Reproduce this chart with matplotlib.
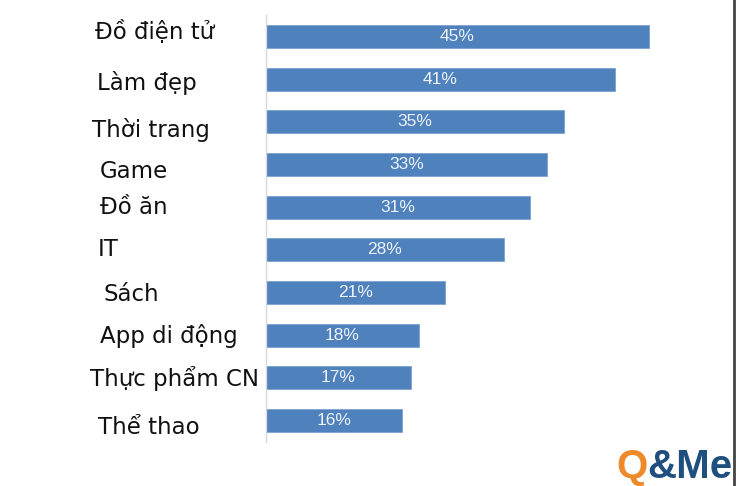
import matplotlib
matplotlib.use("Agg")
import matplotlib.pyplot as plt
from matplotlib.lines import Line2D

# data
categories = ["Đồ điện tử", "Làm đẹp", "Thời trang", "Game", "Đồ ăn",
              "IT", "Sách", "App di động", "Thực phẩm CN", "Thể thao"]
values = [45, 41, 35, 33, 31, 28, 21, 18, 17, 16]

# small hand offsets for the category labels (pixels), as in the source picture
label_dx = [5, 7, 2, 10, 10, 8, 13, 10, 0, 8]
label_dy = [-4, 4, 8, 7, 0, 0, 2, 1, 1, 7]

W, H = 736, 486
fig = plt.figure(figsize=(W / 100, H / 100), dpi=100)
ax = fig.add_axes([266 / W, 1 - 442 / H, 425 / W, 427 / H])

y = list(range(len(categories)))
bars = ax.barh(y, values, height=0.54, color="#4F81BD", edgecolor="#7da2d1", linewidth=0.6)
ax.set_xlim(0, 50)
ax.set_ylim(len(categories) - 0.5, -0.5)

for b, v in zip(bars, values):
    ax.text(v / 2, b.get_y() + b.get_height() / 2, f"{v}%", ha="center", va="center",
            color="#eef3fa", fontsize=12.5, family="Liberation Sans")

for sp in ["top", "right", "bottom"]:
    ax.spines[sp].set_visible(False)
ax.spines["left"].set_color("#d9d9d9")
ax.spines["left"].set_linewidth(1.0)
ax.set_xticks([])
ax.set_yticks([])

# category labels placed by hand, left aligned
for i, name in enumerate(categories):
    yc = 1 - (15 + (i + 0.5) * 42.7 + label_dy[i]) / H
    fig.text((90 + label_dx[i]) / W, yc, name, ha="left", va="center",
             fontsize=16.5, family="DejaVu Sans", color="#111111")

# logo
fig.text(616 / W, 0.5 / H, "Q", color="#EE8A2A", fontsize=29, fontweight="bold",
         family="Liberation Sans", ha="left", va="bottom")
fig.text(647 / W, 0.5 / H, "&Me", color="#1E4F7E", fontsize=29, fontweight="bold",
         family="Liberation Sans", ha="left", va="bottom")

# right border
fig.add_artist(Line2D([734 / W, 734 / W], [0, 1], transform=fig.transFigure,
                      color="#444444", linewidth=2))

fig.savefig("out.png", dpi=100)
